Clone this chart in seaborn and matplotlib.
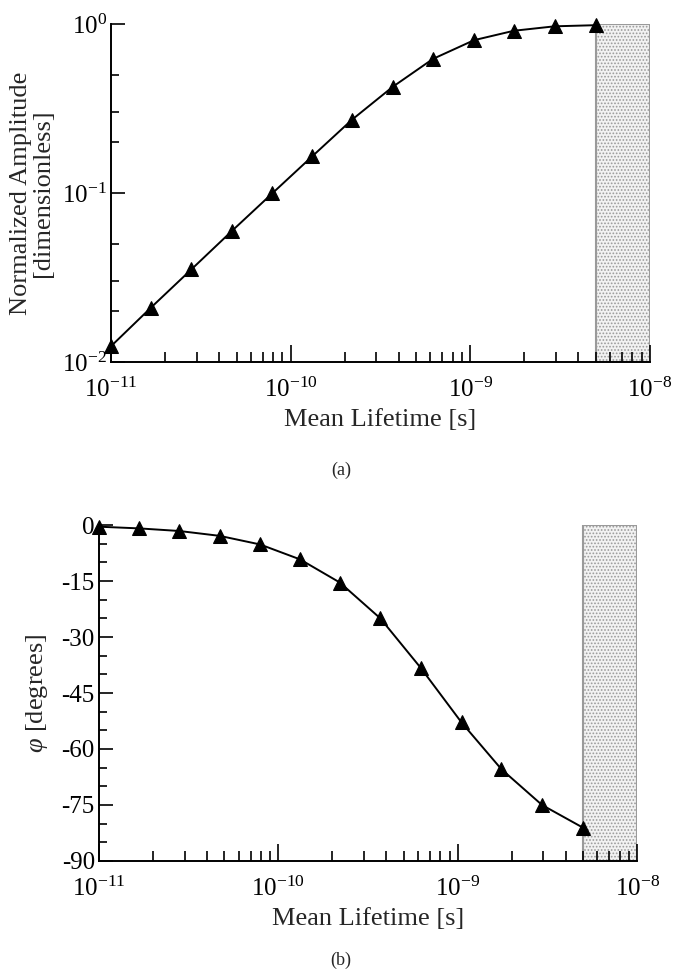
import numpy as np
import pandas as pd
import matplotlib
matplotlib.use("Agg")
import matplotlib.pyplot as plt
import matplotlib.ticker as mticker
import seaborn as sns

# 数据
lifetime = [1.0e-11, 1.67e-11, 2.8e-11, 4.7e-11, 7.9e-11, 1.32e-10, 2.2e-10,
            3.7e-10, 6.2e-10, 1.05e-9, 1.75e-9, 2.95e-9, 5.0e-9]
amplitude = [0.0124, 0.021, 0.0353, 0.0595, 0.0995, 0.165, 0.272,
             0.425, 0.622, 0.803, 0.913, 0.97, 0.985]
phase = [-0.45, -0.9, -1.6, -2.9, -5.2, -9.2, -15.4,
         -25.0, -38.2, -52.9, -65.4, -75.0, -81.1]
shade_range = [5.0e-9, 1.0e-8]
x_ticks = [1e-11, 1e-10, 1e-9, 1e-8]
x_ticklabels = ['$10^{-11}$', '$10^{-10}$', '$10^{-9}$', '$10^{-8}$']
amp_ticks = [1e-2, 1e-1, 1e0]
amp_ticklabels = ['$10^{-2}$', '$10^{-1}$', '$10^{0}$']
phase_ticks = [0, -15, -30, -45, -60, -75, -90]

df = pd.DataFrame({'lifetime': lifetime, 'amplitude': amplitude, 'phase': phase})

sns.set_style("ticks")
plt.rcParams['font.family'] = ['Liberation Serif', 'DejaVu Serif']
plt.rcParams['mathtext.fontset'] = 'custom'
plt.rcParams['mathtext.rm'] = 'Liberation Serif'
plt.rcParams['mathtext.it'] = 'Liberation Serif:italic'
plt.rcParams['axes.unicode_minus'] = False
plt.rcParams['hatch.linewidth'] = 0.8

fig = plt.figure(figsize=(6.82, 9.71), dpi=100)
ax1 = fig.add_axes([0.1628, 0.6272, 0.790, 0.348])
ax2 = fig.add_axes([0.1452, 0.1133, 0.789, 0.346])


def style_axis(ax):
    ax.set_xscale('log')
    ax.set_xlim(1e-11, 1e-8)
    ax.set_xticks(x_ticks)
    ax.set_xticklabels(x_ticklabels)
    ax.xaxis.set_minor_locator(mticker.LogLocator(base=10, subs=np.arange(2, 10)))
    ax.xaxis.set_minor_formatter(mticker.NullFormatter())
    ax.tick_params(which='both', direction='in', width=1.2, labelsize=18, colors='black')
    ax.tick_params(which='major', length=12, pad=11)
    ax.tick_params(which='minor', length=7)
    ax.tick_params(axis='y', which='major', length=10, pad=3)
    ax.tick_params(axis='y', which='minor', length=6)
    for s in ['top', 'right']:
        ax.spines[s].set_visible(False)
    for s in ['left', 'bottom']:
        ax.spines[s].set_linewidth(1.4)
        ax.spines[s].set_color('black')
    ax.axvspan(shade_range[0], shade_range[1], facecolor='#f2f2f2',
               edgecolor='#9a9a9a', hatch='.....', linewidth=1.5, zorder=0)
    ax.set_xlabel('Mean Lifetime [s]', fontsize=19, labelpad=5)


# (a) 归一化幅值
sns.lineplot(data=df, x='lifetime', y='amplitude', ax=ax1, color='black',
             marker='^', markersize=10, linewidth=1.4, markeredgecolor='black',
             clip_on=False, zorder=3)
style_axis(ax1)
ax1.set_yscale('log')
ax1.set_ylim(1e-2, 1e0)
ax1.set_yticks(amp_ticks)
ax1.set_yticklabels(amp_ticklabels)
ax1.yaxis.set_minor_locator(mticker.LogLocator(base=10, subs=(2, 3, 5)))
ax1.yaxis.set_minor_formatter(mticker.NullFormatter())
ax1.set_ylabel('Normalized Amplitude\n[dimensionless]', fontsize=19, labelpad=6,
               linespacing=1.0)

# (b) 相位
sns.lineplot(data=df, x='lifetime', y='phase', ax=ax2, color='black',
             marker='^', markersize=10, linewidth=1.4, markeredgecolor='black',
             clip_on=False, zorder=3)
style_axis(ax2)
ax2.set_ylim(-90, 0)
ax2.set_yticks(phase_ticks)
ax2.yaxis.set_minor_locator(mticker.MultipleLocator(5))
ax2.set_ylabel(r'$\varphi$ [degrees]', fontsize=19, labelpad=8)

fig.text(0.5, 1 - 470 / 971, '(a)', ha='center', va='center', fontsize=13)
fig.text(0.5, 1 - 960 / 971, '(b)', ha='center', va='center', fontsize=13)

fig.savefig('out.png', dpi=100)
